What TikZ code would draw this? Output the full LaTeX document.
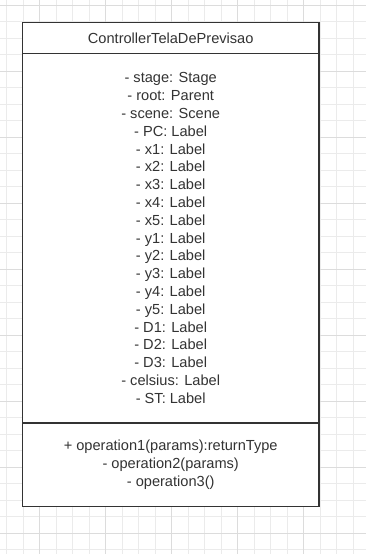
\documentclass[tikz,border=0pt]{standalone}
\usepackage{fontspec}
\setmainfont{Liberation Sans}
\usetikzlibrary{positioning}
\definecolor{gridminor}{HTML}{EBEBEB}
\definecolor{gridmajor}{HTML}{DCDCDC}
\definecolor{umlline}{HTML}{333333}

\begin{document}
\begin{tikzpicture}[x=1pt, y=-1pt,
  grid_line/.style={gridminor, line width=0.8pt},
  grid_major/.style={gridmajor, line width=0.8pt},
  class_part/.style={draw=umlline, fill=white, line width=1.5pt, text=umlline, minimum width=296.7pt, inner sep=0pt, outer sep=0pt, align=center, font=\fontsize{14.6}{17.8}\selectfont}]
				\useasboundingbox[fill=white] (0,0) rectangle (366,554);
				% background grid
				\foreach \i in {0,...,21} \draw[grid_line] ({6.5+16.5*\i},0) -- ({6.5+16.5*\i},554);
				\foreach \j in {0,...,33} \draw[grid_line] (0,{5+16.5*\j}) -- (366,{5+16.5*\j});
				\foreach \i in {0,...,4} \draw[grid_major] ({39.5+66*\i},0) -- ({39.5+66*\i},554);
				\foreach \j in {0,...,8} \draw[grid_major] (0,{5+66*\j}) -- (366,{5+66*\j});
				
				% class box
				\node[class_part, minimum height=31pt] (1) at (170.7, 37.8) {ControllerTelaDePrevisao};
				\node[class_part, minimum height=369.7pt, below=0pt of 1] (2) {- stage: Stage\\ - root: Parent\\ - scene: Scene\\ - PC: Label\\
					- x1: Label\\ - x2: Label\\ - x3: Label\\ - x4: Label\\ - x5: Label\\
					- y1: Label\\ - y2: Label\\ - y3: Label\\ - y4: Label\\ - y5: Label\\
					- D1: Label\\ - D2: Label\\ - D3: Label\\ - celsius: Label\\ - ST: Label};
				\node[class_part, minimum height=83.7pt, below=0pt of 2] (3) {+ operation1(params):returnType\\ - operation2(params)\\ - operation3()};
			\end{tikzpicture}
\end{document}
